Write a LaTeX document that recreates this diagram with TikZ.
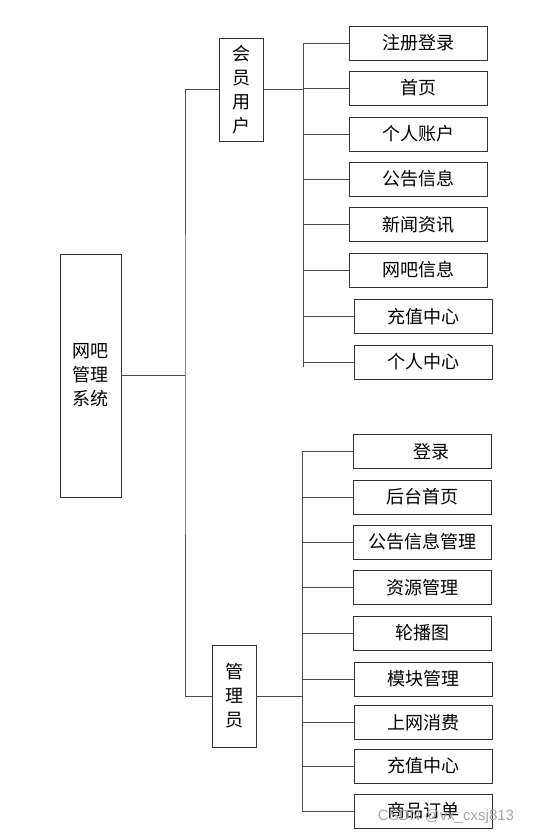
\documentclass[tikz,border=0pt]{standalone}
\usepackage{fontspec}
\usepackage{tikz}
\usepackage{xcolor}
\newfontfamily\cjk{Noto Sans CJK SC}
\newfontfamily\wmfont{Liberation Sans}

\tikzset{
  box/.style={draw=black!80, line width=0.8pt, inner sep=0pt, align=center,
    font=\cjk\fontsize{18}{24}\selectfont},
  leafbox/.style={box, minimum width=138pt, minimum height=34pt},
  link/.style={draw=black!70, line width=0.8pt}
}

\begin{document}
\begin{tikzpicture}[x=1pt, y=-1pt]
    \useasboundingbox (0,0) rectangle (544,834);
    % Root and the two roles
    \node[box, minimum width=61pt, minimum height=243pt] (root) at (90.5,375.5) {网吧\\管理\\系统};
    \node[box, minimum width=44pt, minimum height=103pt] (member) at (241,89.5) {会\\员\\用\\户};
    \node[box, minimum width=44pt, minimum height=102pt] (admin) at (234,696) {管\\理\\员};
    % Trunk
    \coordinate (trunk) at (185,375.5);
    \draw[link] (root.east) -- (trunk);
    \draw[link] (member.west) -| (trunk) |- (admin.west);
    % Member functions
    \node[leafbox] (m1) at (418,43) {注册登录};
    \node[leafbox] (m2) at (418,88) {首页};
    \node[leafbox] (m3) at (418,134) {个人账户};
    \node[leafbox] (m4) at (418,179) {公告信息};
    \node[leafbox] (m5) at (418,224.5) {新闻资讯};
    \node[leafbox] (m6) at (418,270) {网吧信息};
    \node[leafbox] (m7) at (423,316.5) {充值中心};
    \node[leafbox] (m8) at (423,362) {个人中心};
    \coordinate (mtop) at (303,43);
    \coordinate (mbot) at (303,367);
    \draw[link] (mtop) -- (mbot);
    \draw[link] (member.east) -- (member.east -| mtop);
    \foreach \n in {m1,m2,m3,m4,m5,m6,m7,m8}
        \draw[link] (\n.west -| mtop) -- (\n.west);
    % Admin functions
    \node[leafbox] (a1) at (422,451.5) {\hspace{18pt}登录};
    \node[leafbox] (a2) at (422,497) {后台首页};
    \node[leafbox] (a3) at (422,542) {公告信息管理};
    \node[leafbox] (a4) at (422,587.5) {资源管理};
    \node[leafbox] (a5) at (422,633) {轮播图};
    \node[leafbox] (a6) at (423,679) {模块管理};
    \node[leafbox] (a7) at (423,722.5) {上网消费};
    \node[leafbox] (a8) at (423,766) {充值中心};
    \node[leafbox] (a9) at (423,811) {商品订单};
    \coordinate (atop) at (302,451.5);
    \coordinate (abot) at (302,811);
    \draw[link] (atop) -- (abot);
    \draw[link] (admin.east) -- (admin.east -| atop);
    \foreach \n in {a1,a2,a3,a4,a5,a6,a7,a8,a9}
        \draw[link] (\n.west -| atop) -- (\n.west);
    % Watermark
    \node[text=black!35, font=\wmfont\fontsize{15}{15}\selectfont] (mark) at (446,817) {CSDN @vx\_cxsj813};
\end{tikzpicture}
\end{document}
